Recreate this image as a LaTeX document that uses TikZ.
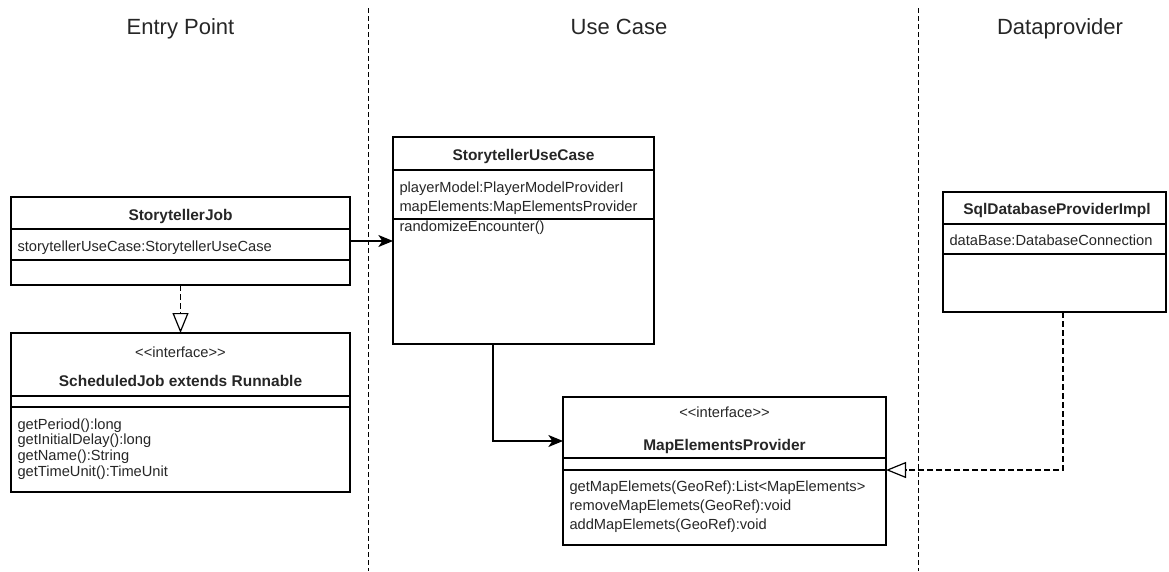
\documentclass[tikz,border=0pt]{standalone}
\usepackage{fontspec}
\setmainfont{Liberation Sans}
\usetikzlibrary{arrows.meta}
\tikzset{every picture/.style={line width=0.75pt}}
\definecolor{InkGray}{HTML}{262626}
\tikzset{
    classbox/.style={draw, line width=1pt, outer sep=0pt, inner sep=0pt, anchor=north west},
    compline/.style={line width=1pt},
    classname/.style={font=\fontsize{11.6}{13}\selectfont\bfseries, text=InkGray, anchor=base, inner sep=0pt},
    stereo/.style={font=\fontsize{11}{13}\selectfont, text=InkGray, anchor=base, inner sep=0pt},
    member/.style={font=\fontsize{11}{13}\selectfont, text=InkGray, anchor=base west, inner sep=0pt},
    lanetitle/.style={font=\fontsize{16.5}{19}\selectfont, text=InkGray, anchor=base, inner sep=0pt},
    lanesep/.style={line width=0.75pt, dash pattern=on 3.75pt off 2.25pt},
    assoc/.style={line width=0.9pt, -{Stealth[length=11pt, width=9pt, inset=3pt]}},
    realize/.style={line width=0.9pt, dash pattern=on 4.5pt off 2.25pt, -{Triangle[open, length=15pt, width=12pt]}}
}

\begin{document}
\begin{tikzpicture}[x=0.75pt, y=-0.75pt]
    \useasboundingbox (0,0) rectangle (1169,571);
    % lanes
    \draw[lanesep] (368,8) -- (368,571);
    \draw[lanesep] (918,8) -- (918,571);
    \node[lanetitle] (entrytitle) at (180.5,34) {Entry Point};
    \node[lanetitle] (usecasetitle) at (619,34) {Use Case};
    \node[lanetitle] (datatitle) at (1060,34) {Dataprovider};

    % entry point
    \node[classbox, minimum width=254.25pt, minimum height=66pt] (job) at (11,197) {};
    \draw[compline] (job.west |- 0,229) -- (job.east |- 0,229);
    \draw[compline] (job.west |- 0,260) -- (job.east |- 0,260);
    \node[classname] (jobname) at (180.5,220.7) {StorytellerJob};
    \node[member] (jobattr) at (17,251) {storytellerUseCase:StorytellerUseCase};

    \node[classbox, minimum width=254.25pt, minimum height=119.25pt] (sched) at (11,333) {};
    \draw[compline] (sched.west |- 0,396) -- (sched.east |- 0,396);
    \draw[compline] (sched.west |- 0,407) -- (sched.east |- 0,407);
    \node[stereo] (schedstereo) at (180.5,357) {<\kern0pt<interface>\kern0pt>};
    \node[classname] (schedname) at (180.5,386.7) {ScheduledJob extends Runnable};
    \foreach \op [count=\i] in {getPeriod():long, getInitialDelay():long, getName():String, getTimeUnit():TimeUnit}
        \node[member] (schedop\i) at (17,413.6+15.6*\i) {\op};

    % use case
    \node[classbox, minimum width=195.75pt, minimum height=155.25pt] (ucase) at (393,137) {};
    \draw[compline] (ucase.west |- 0,170) -- (ucase.east |- 0,170);
    \draw[compline] (ucase.west |- 0,219) -- (ucase.east |- 0,219);
    \node[classname] (ucasename) at (523.5,160.7) {StorytellerUseCase};
    \foreach \attr [count=\i] in {playerModel:PlayerModelProviderI, mapElements:MapElementsProvider}
        \node[member] (ucaseattr\i) at (399,174.4+18.3*\i) {\attr};
    \node[member] (ucaseop) at (399,231.7) {randomizeEncounter()};

    \node[classbox, minimum width=242.25pt, minimum height=111pt] (map) at (563,397) {};
    \draw[compline] (map.west |- 0,458) -- (map.east |- 0,458);
    \draw[compline] (map.west |- 0,470) -- (map.east |- 0,470);
    \node[stereo] (mapstereo) at (724.5,417) {<\kern0pt<interface>\kern0pt>};
    \node[classname] (mapname) at (724.5,450) {MapElementsProvider};
    \foreach \op [count=\i] in {getMapElemets(GeoRef):List<MapElements>, removeMapElemets(GeoRef):void, addMapElemets(GeoRef):void}
        \node[member] (mapop\i) at (569,473.2+18.6*\i) {\op};

    % dataprovider
    \node[classbox, minimum width=167.25pt, minimum height=90pt] (sql) at (943,192) {};
    \draw[compline] (sql.west |- 0,224) -- (sql.east |- 0,224);
    \draw[compline] (sql.west |- 0,254) -- (sql.east |- 0,254);
    \node[classname] (sqlname) at (1057,214.3) {SqlDatabaseProviderImpl};
    \node[member] (sqlattr) at (949,245) {dataBase:DatabaseConnection};

    % connectors
    \draw[assoc] (job.east) -- (job.east -| ucase.west);
    \draw[realize] (job.south) -- (sched.north);
    \draw[assoc] (ucase.south -| 493,0) |- (map.west |- 0,441);
    \draw[realize] (sql.south -| 1063,0) |- (map.east |- 0,470);
\end{tikzpicture}
\end{document}
